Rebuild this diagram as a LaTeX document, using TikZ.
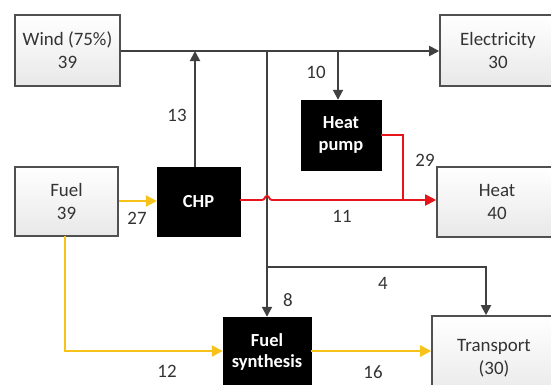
\documentclass[tikz,border=0pt]{standalone}
\usepackage{fontspec}
\setmainfont{Carlito}
\usetikzlibrary{arrows.meta}
\definecolor{boxline}{HTML}{505050}
\definecolor{txt}{HTML}{333333}
\definecolor{flowgray}{HTML}{404040}
\definecolor{flowred}{HTML}{E8141C}
\definecolor{flowyel}{HTML}{F7C31A}
\begin{document}
\begin{tikzpicture}[x=1bp,y=-1bp,
  every node/.style={font=\fontsize{19}{23}\selectfont, text=txt, inner sep=0pt},
  litebox/.style={draw=boxline, line width=1.6bp, top color=white, bottom color=black!9, align=center},
  darkbox/.style={fill=black, draw=black, text=white, font=\fontsize{18.5}{22}\selectfont\bfseries, align=center},
  gflow/.style={draw=flowgray, line width=1.9bp, -{Triangle[length=10bp,width=10bp]}},
  gline/.style={draw=flowgray, line width=1.9bp},
  rflow/.style={draw=flowred, line width=1.9bp, -{Triangle[length=11bp,width=11bp]}},
  rline/.style={draw=flowred, line width=1.9bp},
  yflow/.style={draw=flowyel, line width=2.3bp, -{Triangle[length=11bp,width=11bp]}},
  lbl/.style={text=txt}]
\useasboundingbox (0,0) rectangle (551,384);
\clip (0,0) rectangle (551,384);
% boxes
\node[litebox, minimum width=105bp, minimum height=71bp] (wind) at (67.5,50.5) {Wind (75\%)\\39};
\node[litebox, minimum width=103bp, minimum height=69bp] (fuel) at (66.5,201.5) {Fuel\\39};
\node[darkbox, minimum width=83bp, minimum height=69bp] (chp) at (198.5,201.5) {CHP};
\node[darkbox, minimum width=80bp, minimum height=70bp] (hp) at (341,135) {Heat\\pump};
\node[litebox, minimum width=116bp, minimum height=71bp] (elec) at (498,50.5) {Electricity\\30};
\node[litebox, minimum width=120bp, minimum height=70bp] (heat) at (497,202) {Heat\\40};
\node[litebox, minimum width=124bp, minimum height=84bp] (trans) at (494,358) {Transport\\(30)};
\node[darkbox, minimum width=88bp, minimum height=70bp] (fs) at (267,352) {Fuel\\synthesis};
% junction coordinates
\coordinate (j1) at (195,51);
\coordinate (j2) at (267,51);
\coordinate (j3) at (338,51);
\coordinate (j4) at (267,267);
\coordinate (j5) at (486,267);
\coordinate (hpc) at (403,135);
\coordinate (hpm) at (403,200);
\coordinate (fdn) at (65,351);
\coordinate (fb) at (65,236);
% gray flows
\draw[gflow] (wind.east |- j2) -- (elec.west |- j2);
\draw[gflow] (chp.north -| j1) -- (j1);
\draw[gflow] (j3) -- (hp.north -| j3);
\draw[gflow] (j2) -- (fs.north);
\draw[gflow] (j4) -- (j5) -- (trans.north -| j5);
% red flows
\draw[rline] (hp.east |- hpc) -- (hpc) -- (hpm);
\draw[rflow] (chp.east |- hpm) -- (262,200) .. controls (265,200) and (264.5,196) .. (267,196) .. controls (269.5,196) and (269,200) .. (272,200) -- (heat.west |- hpm);
% yellow flows
\draw[yflow] (fuel.east |- 0,201) -- (chp.west |- 0,201);
\draw[yflow] (fb) -- (fdn) -- (fs.west |- fdn);
\draw[yflow] (fs.east |- fdn) -- (trans.west |- fdn);
% labels
\node[lbl] (l13) at (177,115) {13};
\node[lbl] (l10) at (316,72) {10};
\node[lbl] (l29) at (425,160) {29};
\node[lbl] (l11) at (342,216) {11};
\node[lbl] (l4) at (383,283) {4};
\node[lbl] (l8) at (288,300) {8};
\node[lbl] (l27) at (137,218) {27};
\node[lbl] (l12) at (167,371) {12};
\node[lbl] (l16) at (373,372) {16};
\end{tikzpicture}
\end{document}
